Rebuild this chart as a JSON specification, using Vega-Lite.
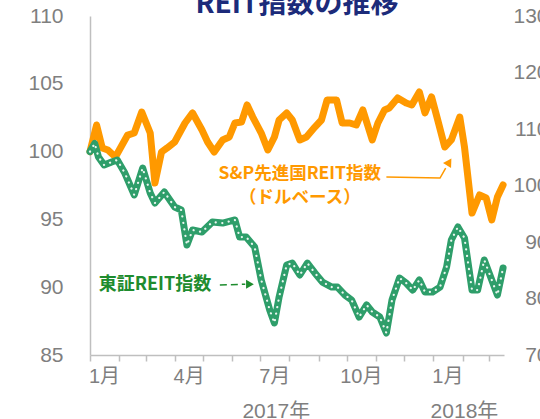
{
  "$schema": "https://vega.github.io/schema/vega-lite/v6.json",
  "width": 414,
  "height": 339,
  "autosize": {"type": "none"},
  "padding": {"left": 90, "top": 16, "right": 36, "bottom": 64},
  "background": "white",
  "config": {
    "view": {"stroke": null},
    "font": "Liberation Sans, Noto Sans CJK JP, sans-serif",
    "axis": {"grid": false}
  },
  "title": {
    "text": "REIT指数の推移",
    "font": "Noto Sans CJK JP",
    "fontSize": 28,
    "fontWeight": "bold",
    "color": "#1c2b7a",
    "anchor": "middle",
    "offset": 0,
    "dy": 14
  },
  "datasets": {
    "sp": [
      {"d": "2017-01-01", "v": 100.0}, {"d": "2017-01-08", "v": 101.96}, {"d": "2017-01-14", "v": 100.27},
      {"d": "2017-01-20", "v": 100.12}, {"d": "2017-01-28", "v": 99.6}, {"d": "2017-02-10", "v": 101.22},
      {"d": "2017-02-17", "v": 101.37}, {"d": "2017-02-25", "v": 102.92}, {"d": "2017-03-06", "v": 101.37},
      {"d": "2017-03-11", "v": 97.68}, {"d": "2017-03-18", "v": 99.97}, {"d": "2017-03-24", "v": 100.27},
      {"d": "2017-04-01", "v": 100.71}, {"d": "2017-04-12", "v": 102.11}, {"d": "2017-04-20", "v": 102.85},
      {"d": "2017-04-30", "v": 101.59}, {"d": "2017-05-06", "v": 100.71}, {"d": "2017-05-13", "v": 99.97},
      {"d": "2017-05-22", "v": 100.86}, {"d": "2017-05-29", "v": 101.08}, {"d": "2017-06-04", "v": 102.11},
      {"d": "2017-06-11", "v": 102.18}, {"d": "2017-06-17", "v": 103.44}, {"d": "2017-06-23", "v": 102.55},
      {"d": "2017-07-02", "v": 101.37}, {"d": "2017-07-09", "v": 100.12}, {"d": "2017-07-16", "v": 101.08},
      {"d": "2017-07-21", "v": 102.33}, {"d": "2017-07-29", "v": 102.85}, {"d": "2017-08-04", "v": 102.33},
      {"d": "2017-08-12", "v": 100.86}, {"d": "2017-08-19", "v": 101.08}, {"d": "2017-08-28", "v": 101.81},
      {"d": "2017-09-04", "v": 102.33}, {"d": "2017-09-10", "v": 103.81}, {"d": "2017-09-20", "v": 103.81},
      {"d": "2017-09-26", "v": 102.11}, {"d": "2017-10-04", "v": 102.11}, {"d": "2017-10-11", "v": 101.96},
      {"d": "2017-10-18", "v": 103.07}, {"d": "2017-10-28", "v": 100.86}, {"d": "2017-11-03", "v": 102.11},
      {"d": "2017-11-10", "v": 103.07}, {"d": "2017-11-15", "v": 103.22}, {"d": "2017-11-24", "v": 103.96},
      {"d": "2017-12-03", "v": 103.58}, {"d": "2017-12-09", "v": 103.44}, {"d": "2017-12-17", "v": 104.4},
      {"d": "2017-12-23", "v": 102.85}, {"d": "2017-12-30", "v": 104.03}, {"d": "2018-01-05", "v": 102.48},
      {"d": "2018-01-13", "v": 100.34}, {"d": "2018-01-20", "v": 100.86}, {"d": "2018-01-29", "v": 102.55},
      {"d": "2018-02-03", "v": 100.34}, {"d": "2018-02-11", "v": 95.47}, {"d": "2018-02-19", "v": 96.8},
      {"d": "2018-02-26", "v": 96.58}, {"d": "2018-03-04", "v": 94.96}, {"d": "2018-03-10", "v": 96.65},
      {"d": "2018-03-16", "v": 97.54}
    ],
    "tse": [
      {"d": "2017-01-01", "v": 100.0}, {"d": "2017-01-06", "v": 100.6}, {"d": "2017-01-10", "v": 99.6},
      {"d": "2017-01-16", "v": 99.01}, {"d": "2017-01-24", "v": 99.23}, {"d": "2017-01-30", "v": 99.38},
      {"d": "2017-02-07", "v": 98.42}, {"d": "2017-02-17", "v": 96.8}, {"d": "2017-02-26", "v": 98.79},
      {"d": "2017-03-06", "v": 96.95}, {"d": "2017-03-11", "v": 96.21}, {"d": "2017-03-21", "v": 97.02},
      {"d": "2017-04-01", "v": 95.91}, {"d": "2017-04-08", "v": 95.69}, {"d": "2017-04-14", "v": 93.11},
      {"d": "2017-04-20", "v": 94.22}, {"d": "2017-04-30", "v": 94.07}, {"d": "2017-05-11", "v": 94.81},
      {"d": "2017-05-22", "v": 94.73}, {"d": "2017-06-04", "v": 94.96}, {"d": "2017-06-09", "v": 93.7},
      {"d": "2017-06-16", "v": 93.7}, {"d": "2017-06-25", "v": 92.96}, {"d": "2017-07-02", "v": 90.53},
      {"d": "2017-07-11", "v": 88.32}, {"d": "2017-07-16", "v": 87.36}, {"d": "2017-07-21", "v": 89.28},
      {"d": "2017-07-29", "v": 91.64}, {"d": "2017-08-04", "v": 91.78}, {"d": "2017-08-12", "v": 90.9},
      {"d": "2017-08-20", "v": 91.78}, {"d": "2017-08-28", "v": 91.05}, {"d": "2017-09-05", "v": 90.38},
      {"d": "2017-09-15", "v": 90.01}, {"d": "2017-09-21", "v": 90.01}, {"d": "2017-09-29", "v": 89.42},
      {"d": "2017-10-06", "v": 89.06}, {"d": "2017-10-14", "v": 87.8}, {"d": "2017-10-22", "v": 88.69},
      {"d": "2017-10-28", "v": 88.17}, {"d": "2017-11-05", "v": 87.8}, {"d": "2017-11-12", "v": 86.62},
      {"d": "2017-11-18", "v": 89.06}, {"d": "2017-11-26", "v": 90.68}, {"d": "2017-12-03", "v": 90.31},
      {"d": "2017-12-10", "v": 89.79}, {"d": "2017-12-17", "v": 90.53}, {"d": "2017-12-23", "v": 89.65},
      {"d": "2017-12-31", "v": 89.65}, {"d": "2018-01-08", "v": 90.01}, {"d": "2018-01-15", "v": 91.49},
      {"d": "2018-01-20", "v": 93.48}, {"d": "2018-01-27", "v": 94.44}, {"d": "2018-02-03", "v": 93.63},
      {"d": "2018-02-11", "v": 89.79}, {"d": "2018-02-17", "v": 89.79}, {"d": "2018-02-24", "v": 92.01},
      {"d": "2018-03-04", "v": 90.53}, {"d": "2018-03-10", "v": 89.42}, {"d": "2018-03-16", "v": 91.42}
    ],
    "arrowO": [
      {"d": "2017-11-12", "v": 98.13, "o": 1},
      {"d": "2018-01-08", "v": 98.05, "o": 2},
      {"d": "2018-01-14", "v": 98.79, "o": 3}
    ],
    "arrowG": [
      {"d": "2017-05-19", "v": 90.16, "d2": "2017-06-15", "v2": 90.22}
    ],
    "headO": [{"d": "2018-01-17", "v": 99.15}],
    "headG": [{"d": "2017-06-20", "v": 90.22}],
    "textO": [
      {"d": "2017-08-12", "v": 98.35, "t": "S&P先進国REIT指数"},
      {"d": "2017-08-12", "v": 96.58, "t": "（ドルベース）"}
    ],
    "textG": [{"d": "2017-03-11", "v": 90.16, "t": "東証REIT指数"}],
    "years": [
      {"d": "2017-07-18", "v": 80.8, "t": "2017年"},
      {"d": "2018-02-03", "v": 80.8, "t": "2018年"}
    ],
    "right": [{"v": 70}, {"v": 130}]
  },
  "layer": [
    {
      "layer": [
        {
          "data": {"name": "sp"},
          "mark": {"type": "line", "color": "#FF9900", "strokeWidth": 7, "strokeCap": "round", "strokeJoin": "round"},
          "encoding": {
            "x": {
              "field": "d", "type": "temporal", "title": null,
              "scale": {"type": "utc", "domain": [{"year": 2017, "month": 1, "date": 1, "utc": true}, {"year": 2018, "month": 3, "date": 17, "utc": true}]},
              "axis": {
                "tickCount": {"interval": "month", "step": 1},
                "labelExpr": "utcmonth(datum.value) % 3 == 0 ? (utcmonth(datum.value) + 1) + '月' : ''",
                "labelOffset": 14,
                "labelAlign": "center",
                "labelBaseline": "top",
                "labelPadding": 5,
                "labelFontSize": 20,
                "labelColor": "#7f7f7f",
                "labelFlush": false,
                "labelOverlap": false,
                "domainColor": "#bfbfbf",
                "domainWidth": 1.5,
                "tickColor": "#bfbfbf",
                "tickWidth": 1.5,
                "tickSize": 6
              }
            },
            "y": {
              "field": "v", "type": "quantitative", "title": null,
              "scale": {"domain": [85, 110], "nice": false, "zero": false},
              "axis": {
                "values": [85, 90, 95, 100, 105, 110],
                "ticks": false,
                "tickSize": 0,
                "labelPadding": 27,
                "labelFontSize": 21,
                "labelColor": "#7f7f7f",
                "domainColor": "#bfbfbf",
                "domainWidth": 1.5
              }
            }
          }
        },
        {
          "data": {"name": "tse"},
          "mark": {"type": "line", "color": "#2e9e6a", "strokeWidth": 7, "strokeCap": "round", "strokeJoin": "round"},
          "encoding": {
            "x": {"field": "d", "type": "temporal", "title": null, "scale": {"type": "utc", "domain": [{"year": 2017, "month": 1, "date": 1, "utc": true}, {"year": 2018, "month": 3, "date": 17, "utc": true}]}},
            "y": {"field": "v", "type": "quantitative", "title": null, "scale": {"domain": [85, 110], "nice": false, "zero": false}}
          }
        },
        {
          "data": {"name": "tse"},
          "mark": {"type": "line", "color": "#ffffff", "strokeWidth": 2.2, "strokeCap": "round", "strokeDash": [0.1, 6.5], "opacity": 0.9},
          "encoding": {
            "x": {"field": "d", "type": "temporal", "title": null, "scale": {"type": "utc", "domain": [{"year": 2017, "month": 1, "date": 1, "utc": true}, {"year": 2018, "month": 3, "date": 17, "utc": true}]}},
            "y": {"field": "v", "type": "quantitative", "title": null, "scale": {"domain": [85, 110], "nice": false, "zero": false}}
          }
        },
        {
          "data": {"name": "arrowO"},
          "mark": {"type": "line", "color": "#FF9900", "strokeWidth": 1.5},
          "encoding": {
            "x": {"field": "d", "type": "temporal", "title": null, "scale": {"type": "utc", "domain": [{"year": 2017, "month": 1, "date": 1, "utc": true}, {"year": 2018, "month": 3, "date": 17, "utc": true}]}},
            "y": {"field": "v", "type": "quantitative", "title": null, "scale": {"domain": [85, 110], "nice": false, "zero": false}},
            "order": {"field": "o", "type": "quantitative"}
          }
        },
        {
          "data": {"name": "headO"},
          "mark": {"type": "point", "shape": "triangle", "filled": true, "color": "#FF9900", "size": 90, "angle": 32, "opacity": 1},
          "encoding": {
            "x": {"field": "d", "type": "temporal", "title": null, "scale": {"type": "utc", "domain": [{"year": 2017, "month": 1, "date": 1, "utc": true}, {"year": 2018, "month": 3, "date": 17, "utc": true}]}},
            "y": {"field": "v", "type": "quantitative", "title": null, "scale": {"domain": [85, 110], "nice": false, "zero": false}}
          }
        },
        {
          "data": {"name": "arrowG"},
          "mark": {"type": "rule", "color": "#1e8c2e", "strokeWidth": 1.5, "strokeDash": [7, 4]},
          "encoding": {
            "x": {"field": "d", "type": "temporal", "title": null, "scale": {"type": "utc", "domain": [{"year": 2017, "month": 1, "date": 1, "utc": true}, {"year": 2018, "month": 3, "date": 17, "utc": true}]}},
            "x2": {"field": "d2"},
            "y": {"field": "v", "type": "quantitative", "title": null, "scale": {"domain": [85, 110], "nice": false, "zero": false}},
            "y2": {"field": "v2"}
          }
        },
        {
          "data": {"name": "headG"},
          "mark": {"type": "point", "shape": "triangle-right", "filled": true, "color": "#1e8c2e", "size": 80, "opacity": 1},
          "encoding": {
            "x": {"field": "d", "type": "temporal", "title": null, "scale": {"type": "utc", "domain": [{"year": 2017, "month": 1, "date": 1, "utc": true}, {"year": 2018, "month": 3, "date": 17, "utc": true}]}},
            "y": {"field": "v", "type": "quantitative", "title": null, "scale": {"domain": [85, 110], "nice": false, "zero": false}}
          }
        },
        {
          "data": {"name": "textO"},
          "mark": {"type": "text", "color": "#FF9900", "font": "Noto Sans CJK JP", "fontWeight": "bold", "fontSize": 17.5, "align": "center", "baseline": "middle"},
          "encoding": {
            "x": {"field": "d", "type": "temporal", "title": null, "scale": {"type": "utc", "domain": [{"year": 2017, "month": 1, "date": 1, "utc": true}, {"year": 2018, "month": 3, "date": 17, "utc": true}]}},
            "y": {"field": "v", "type": "quantitative", "title": null, "scale": {"domain": [85, 110], "nice": false, "zero": false}},
            "text": {"field": "t"}
          }
        },
        {
          "data": {"name": "textG"},
          "mark": {"type": "text", "color": "#1e8c2e", "font": "Noto Sans CJK JP", "fontWeight": "bold", "fontSize": 18, "align": "center", "baseline": "middle"},
          "encoding": {
            "x": {"field": "d", "type": "temporal", "title": null, "scale": {"type": "utc", "domain": [{"year": 2017, "month": 1, "date": 1, "utc": true}, {"year": 2018, "month": 3, "date": 17, "utc": true}]}},
            "y": {"field": "v", "type": "quantitative", "title": null, "scale": {"domain": [85, 110], "nice": false, "zero": false}},
            "text": {"field": "t"}
          }
        },
        {
          "data": {"name": "years"},
          "mark": {"type": "text", "color": "#7f7f7f", "fontSize": 21, "align": "center", "baseline": "middle"},
          "encoding": {
            "x": {"field": "d", "type": "temporal", "title": null, "scale": {"type": "utc", "domain": [{"year": 2017, "month": 1, "date": 1, "utc": true}, {"year": 2018, "month": 3, "date": 17, "utc": true}]}},
            "y": {"field": "v", "type": "quantitative", "title": null, "scale": {"domain": [85, 110], "nice": false, "zero": false}},
            "text": {"field": "t"}
          }
        }
      ]
    },
    {
      "data": {"name": "right"},
      "mark": {"type": "point", "opacity": 0},
      "encoding": {
        "y": {
          "field": "v", "type": "quantitative", "title": null,
          "scale": {"domain": [70, 130], "nice": false, "zero": false},
          "axis": {
            "orient": "right",
            "values": [70, 80, 90, 100, 110, 120, 130],
            "ticks": false,
            "tickSize": 0,
            "domain": false,
            "labelAlign": "right",
            "labelPadding": 44,
            "labelFontSize": 21,
            "labelColor": "#7f7f7f"
          }
        }
      }
    }
  ],
  "resolve": {"scale": {"y": "independent"}}
}
